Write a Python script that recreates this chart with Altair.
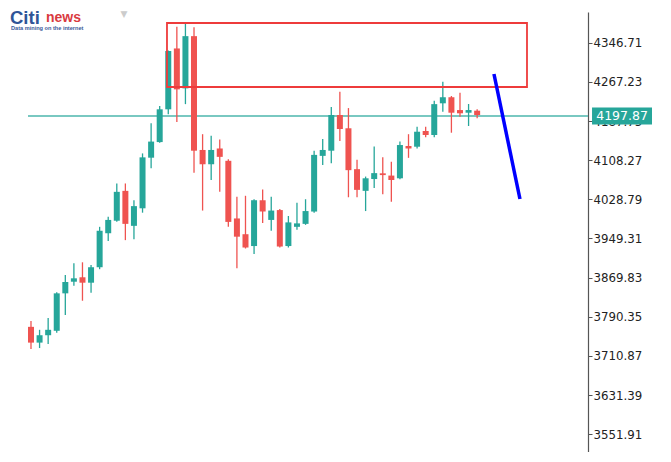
import altair as alt
import pandas as pd

# OHLC candles
opens  = [3770, 3738, 3753, 3762, 3838, 3861.6, 3870.6, 3859.6, 3891, 3960,
          3985.4, 4046, 3975, 4010.6, 4113.3, 4145, 4211.5, 4335, 4254, 4360,
          4129, 4100, 4132, 4107, 3990, 3958, 3934, 4027, 3987, 4007,
          3934, 3973, 3979, 4004, 4117, 4127.5, 4200, 4173, 4090, 4046,
          4070, 4081.6, 4077, 4071.5, 4137, 4135.6, 4167.5, 4159.4, 4223.7, 4236,
          4210, 4204.6, 4208.7]
highs  = [3782, 3764, 3788, 3840, 3875, 3899, 3901, 3895.5, 3973, 3993.5,
          4061, 4061, 4027, 4122, 4183, 4218, 4331, 4379, 4385, 4378,
          4161, 4158, 4150, 4110, 4034, 4036, 4029, 4049, 4034, 4009,
          3995, 4022, 4029, 4127.5, 4151, 4216, 4247, 4214, 4109, 4075,
          4136, 4114, 4105, 4146, 4161, 4176, 4176, 4229, 4267.5, 4238.5,
          4245, 4222.3, 4211.5]
lows   = [3725, 3727, 3735, 3758, 3794, 3853.5, 3823, 3839.3, 3887, 3944,
          3983.4, 3946, 3948, 4001.7, 4092, 4143.7, 4201.4, 4186, 4222, 4083,
          4006, 4068, 4044, 3973, 3889, 3929, 3918, 3981, 3965, 3931,
          3931, 3967, 3977, 4001.7, 4098.5, 4102, 4147, 4033, 4033, 4005,
          4052, 4039, 4024, 4069.5, 4113, 4132, 4154.7, 4154.7, 4206.7, 4164,
          4196.5, 4177.6, 4193.3]
closes = [3738, 3753, 3764, 3838, 3861, 3868.5, 3859.6, 3891, 3965, 3987,
          4044, 3979, 4015, 4114, 4146, 4211.5, 4329.9, 4252, 4360, 4127.5,
          4100, 4129, 4115, 3983, 3953, 3931, 4027, 4004, 4006, 3933,
          3982, 3980, 4005, 4119, 4129, 4200, 4171.5, 4088, 4048, 4071.5,
          4082, 4078, 4068, 4139, 4132, 4166, 4159.4, 4222, 4236, 4204.6,
          4203.4, 4210, 4200]

tick_values = [3551.91, 3631.39, 3710.87, 3790.35, 3869.83, 3949.31,
               4028.79, 4108.27, 4187.75, 4267.23, 4346.71]
last_price = 4197.87
price_line_x = [0.65, 65.92]
price_tag_x = [66.39, 73.38]
box_x = [16.85, 58.81]
box_y = [4386.7, 4256.8]
arrow_x = [54.96, 57.99]
arrow_y = [4283.2, 4029.5]

UP = "#26a69a"
DOWN = "#ef5350"

df = pd.DataFrame({
    "i": list(range(1, len(opens) + 1)),
    "open": opens, "high": highs, "low": lows, "close": closes,
})
df["dir"] = ["up" if c >= o else "down" for o, c in zip(opens, closes)]

xs = alt.Scale(domain=[-1.68, 65.92], nice=False, zero=False, padding=0)
ys = alt.Scale(domain=[3516.0, 4409.0], nice=False, zero=False, padding=0)
col = alt.Color("dir:N", scale=alt.Scale(domain=["up", "down"], range=[UP, DOWN]), legend=None)

base = alt.Chart(df)

wicks = base.mark_rule(strokeWidth=1.3).encode(
    x=alt.X("i:Q", scale=xs, axis=None),
    y=alt.Y("low:Q", scale=ys, title="", axis=alt.Axis(
        orient="right", values=tick_values, format=".2f", grid=False,
        domainColor="#555555", domainWidth=1.2, tickColor="#555555", tickSize=4,
        labelColor="#222222", labelFont="DejaVu Sans", labelFontSize=11.8,
        labelPadding=1, zindex=0)),
    y2="high:Q",
    color=col,
)

bodies = base.mark_bar(size=6).encode(
    x=alt.X("i:Q", scale=xs, axis=None),
    y=alt.Y("open:Q", scale=ys),
    y2="close:Q",
    color=col,
)

price_line = alt.Chart(pd.DataFrame({"x": [price_line_x[0]], "x2": [price_line_x[1]], "y": [last_price]})).mark_rule(
    color="#4db6ac", strokeWidth=1.5).encode(
    x=alt.X("x:Q", scale=xs, axis=None), x2="x2:Q", y=alt.Y("y:Q", scale=ys))

zone = alt.Chart(pd.DataFrame({"x": [box_x[0]], "x2": [box_x[1]], "y": [box_y[0]], "y2": [box_y[1]]})).mark_rect(
    fillOpacity=0, stroke="#ee3b3b", strokeWidth=1.8).encode(
    x=alt.X("x:Q", scale=xs, axis=None), x2="x2:Q", y=alt.Y("y:Q", scale=ys), y2="y2:Q")

arrow = alt.Chart(pd.DataFrame({"x": arrow_x, "y": arrow_y})).mark_line(
    color="#0000ff", strokeWidth=3.5).encode(
    x=alt.X("x:Q", scale=xs, axis=None), y=alt.Y("y:Q", scale=ys))

tag_df = pd.DataFrame({"x": [price_tag_x[0]], "x2": [price_tag_x[1]],
                       "xc": [(price_tag_x[0] + price_tag_x[1]) / 2],
                       "y": [last_price], "t": [f"{last_price:.2f}"]})
price_box = alt.Chart(tag_df).mark_rect(color="#26a69a", yOffset=-8.5, y2Offset=8.5).encode(
    x=alt.X("x:Q", scale=xs, axis=None), x2="x2:Q", y=alt.Y("y:Q", scale=ys), y2="y:Q")
price_text = alt.Chart(tag_df).mark_text(color="white", font="DejaVu Sans", fontSize=12.5,
                                         align="center", baseline="middle").encode(
    x=alt.X("xc:Q", scale=xs, axis=None), y=alt.Y("y:Q", scale=ys), text="t:N")

logo_text = ["Citi", "news", "Data mining on the internet", "▼"]
logo_x = [-1.45, 2.75, -1.33, 11.84]
logo_y = [4384.7, 4388.7, 4372.5, 4405.0]
logo_styles = [
    dict(color="#2f5597", font="Liberation Sans", fontSize=18.5, fontWeight="bold", align="left", baseline="alphabetic"),
    dict(color="#d93a3f", font="Liberation Sans", fontSize=14, fontWeight="bold", align="left", baseline="alphabetic"),
    dict(color="#3a5a99", font="Liberation Sans", fontSize=5.6, fontWeight="bold", align="left", baseline="alphabetic"),
    dict(color="#cccccc", font="DejaVu Sans", fontSize=9, align="center", baseline="middle"),
]
logo_layers = []
for t, lx, ly, st in zip(logo_text, logo_x, logo_y, logo_styles):
    ldf = pd.DataFrame({"x": [lx], "y": [ly], "t": [t]})
    logo_layers.append(
        alt.Chart(ldf).mark_text(**st).encode(
            x=alt.X("x:Q", scale=xs, axis=None), y=alt.Y("y:Q", scale=ys), text="t:N")
    )

chart = alt.layer(
    price_line, wicks, bodies, zone, arrow, price_box, price_text, *logo_layers
).properties(
    width=580, height=440,
    autosize=alt.AutoSizeParams(type="none"),
    padding={"left": 0, "top": 4, "right": 72, "bottom": 0},
    background="white",
).configure_view(strokeWidth=0)

chart.save("out.html", embed_options={"renderer": "svg", "actions": False})
